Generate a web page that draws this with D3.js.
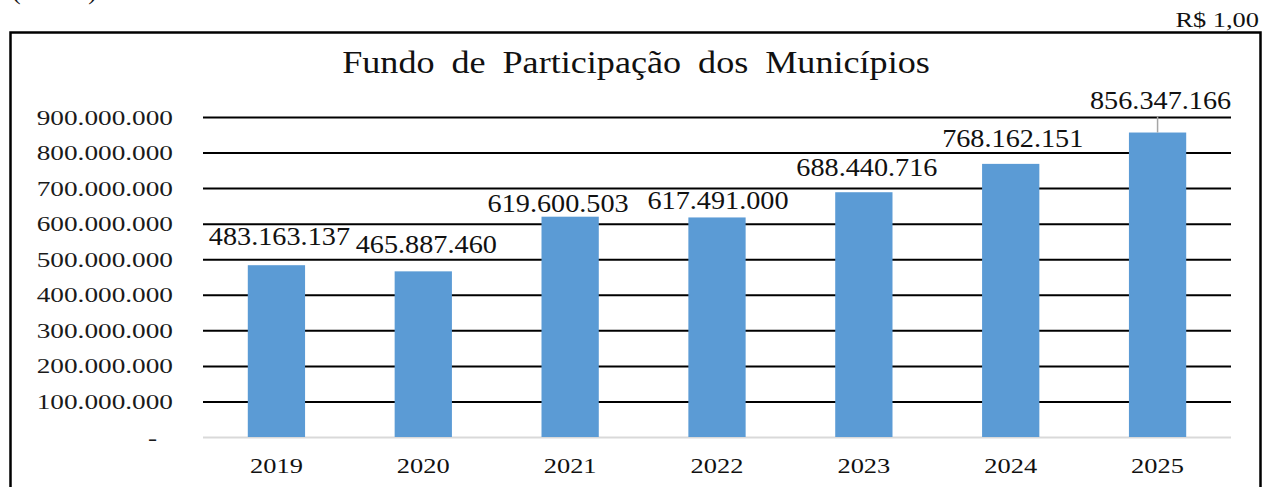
<!DOCTYPE html>
<html>
<head>
<meta charset="utf-8">
<script src="https://cdn.jsdelivr.net/npm/d3@7/dist/d3.min.js"></script>
<style>
  body { margin: 0; background: #fff; }
  svg { display: block; }
</style>
</head>
<body>
<div id="chart"></div>
<script>
// chart data
const years = ["2019", "2020", "2021", "2022", "2023", "2024", "2025"];
const values = [483163137, 465887460, 619600503, 617491000, 688440716, 768162151, 856347166];
const yTicks = [0, 100000000, 200000000, 300000000, 400000000, 500000000, 600000000, 700000000, 800000000, 900000000];
const chartTitle = "Fundo de Participação dos Municípios";
const unitNote = "R$ 1,00";

// label placement (gap above bar top, horizontal nudge), as moved in the source
const labelGap = [20, 18, 5, 8, 16, 17, 24];
const labelDx = [3, 3, -12, 1, 3, 2, 3];

const width = 1265, height = 487;
const plotLeft = 203, plotRight = 1231, plotTop = 117, plotBottom = 437;
const serif = "\"Liberation Serif\", \"Times New Roman\", serif";

const fmt = v => v === 0 ? "-" : d3.format(",")(v).replace(/,/g, ".");

const svg = d3.select("#chart").append("svg")
    .attr("width", width)
    .attr("height", height);

// stretched text helper (source picture is widened horizontally)
function txt(g, x, y, s, size, sx, anchor) {
    return g.append("text")
        .attr("transform", `translate(${x},${y}) scale(${sx},1)`)
        .attr("text-anchor", anchor)
        .style("font-family", serif)
        .style("font-size", size + "px")
        .attr("fill", "#111")
        .text(s);
}

// heading above the frame, cut by the picture edge
txt(svg, 12, -1, "(...)", 26, 1, "start").attr("letter-spacing", "12px");

// frame (bottom edge is outside the picture)
svg.append("path")
    .attr("d", `M10.5,${height + 5} V32.5 H1260.5 V${height + 5}`)
    .attr("fill", "none")
    .attr("stroke", "#000")
    .attr("stroke-width", 2.5);

txt(svg, 1259, 27, unitNote, 22, 1.2, "end");

txt(svg, 636, 73, chartTitle, 32, 1.13, "middle").attr("word-spacing", "7px");

const x = d3.scaleBand()
    .domain(years)
    .range([plotLeft, plotRight])
    .paddingInner(0.61)
    .paddingOuter(0.305);

const y = d3.scaleLinear()
    .domain([0, 900000000])
    .range([plotBottom, plotTop]);

// gridlines + tick labels
const yAxis = svg.append("g")
    .attr("transform", `translate(${plotLeft},0)`)
    .call(d3.axisLeft(y).tickValues(yTicks).tickSize(-(plotRight - plotLeft)).tickFormat(fmt));

yAxis.select(".domain").remove();
yAxis.selectAll(".tick line")
    .attr("stroke", d => d === 0 ? "#d9d9d9" : "#000")
    .attr("stroke-width", 2);
yAxis.selectAll(".tick text")
    .attr("x", null).attr("dy", null)
    .attr("transform", d => `translate(${d === 0 ? -46 : -30},7) scale(1.24,1)`)
    .style("font-size", "22px")
    .style("font-family", serif)
    .attr("fill", "#1a1a1a");

// bars
svg.selectAll("rect.bar")
    .data(values)
    .enter()
    .append("rect")
    .attr("class", "bar")
    .attr("x", (d, i) => x(years[i]))
    .attr("y", d => y(d))
    .attr("width", x.bandwidth())
    .attr("height", d => plotBottom - y(d))
    .attr("fill", "#5b9bd5");

// leader line for the moved 2025 label
const last = values.length - 1;
svg.append("line")
    .attr("x1", x(years[last]) + x.bandwidth() / 2)
    .attr("x2", x(years[last]) + x.bandwidth() / 2)
    .attr("y1", y(values[last]) - labelGap[last] + 8)
    .attr("y2", y(values[last]))
    .attr("stroke", "#a6a6a6")
    .attr("stroke-width", 1.5);

// value labels
values.forEach((v, i) => {
    txt(svg, x(years[i]) + x.bandwidth() / 2 + labelDx[i], y(v) - labelGap[i], fmt(v), 25, 1.13, "middle");
});

// category labels
years.forEach(yr => {
    txt(svg, x(yr) + x.bandwidth() / 2, 472.5, yr, 21, 1.26, "middle");
});
</script>
</body>
</html>
